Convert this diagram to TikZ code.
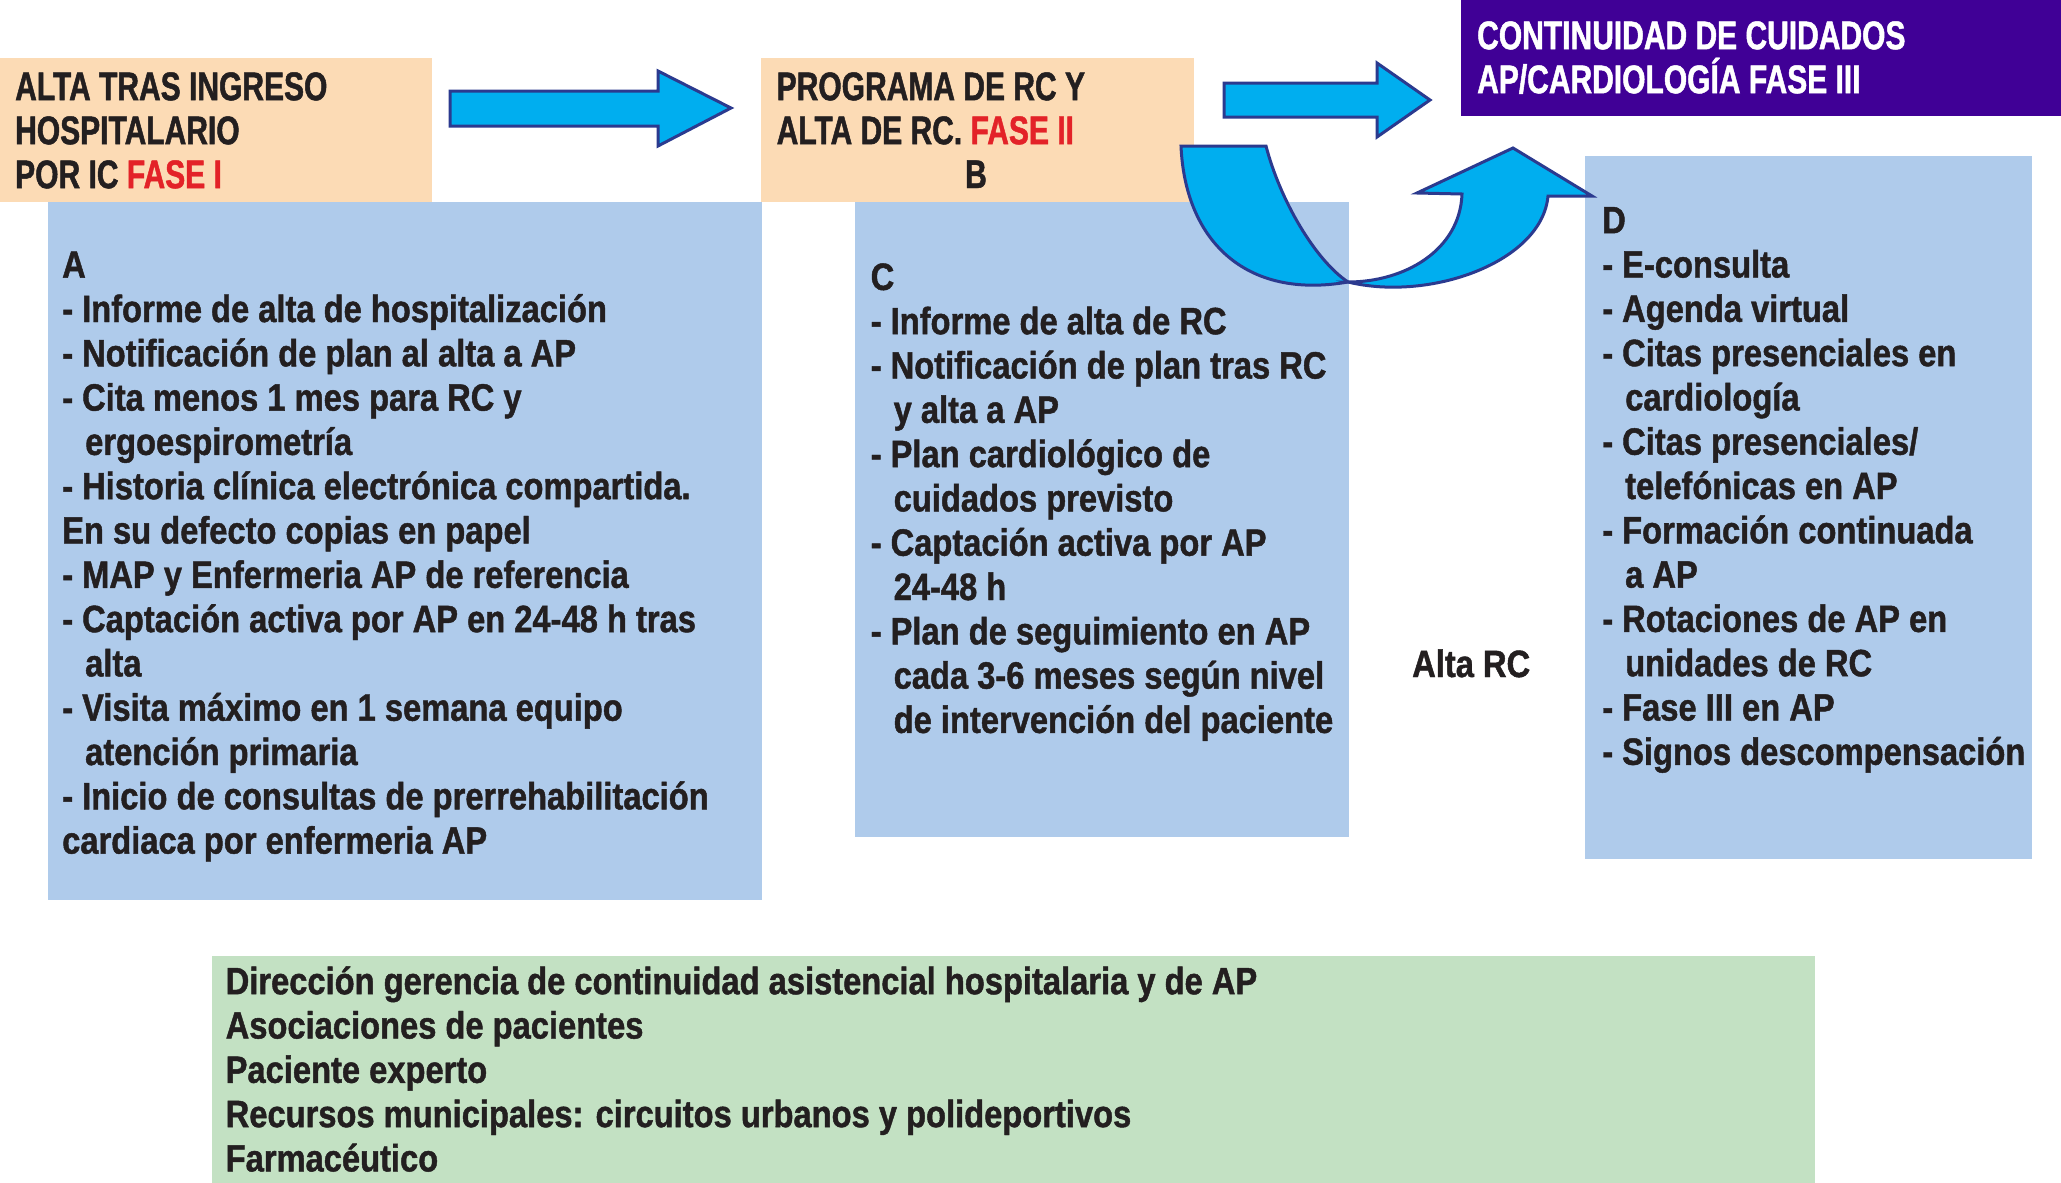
\documentclass[tikz,border=0pt]{standalone}
\usepackage{fontspec}
\newfontfamily\bodyfont{Liberation Sans}[FakeStretch=0.86,FakeBold=1.2]
\newfontfamily\headfont{Liberation Sans}[FakeStretch=0.75,FakeBold=1.2]
\definecolor{peach}{HTML}{FCDBB5}
\definecolor{lblue}{HTML}{AFCBEB}
\definecolor{lgreen}{HTML}{C3E1C3}
\definecolor{purp}{HTML}{400096}
\definecolor{fasered}{HTML}{E32228}
\definecolor{txtcol}{HTML}{231F20}
\definecolor{arrcyan}{HTML}{00AEEF}
\definecolor{arrblue}{HTML}{2B3A8F}
\newcommand{\ind}{\hspace*{23pt}}
\newcommand{\fl}{\rule{0pt}{34pt}}
\begin{document}
\begin{tikzpicture}[x=1pt,y=-1pt,
  box/.style={draw=none, inner sep=0pt, outer sep=0pt, anchor=north west},
  body/.style={anchor=north west, inner sep=0pt, align=left, text=txtcol,
    font=\bodyfont\bfseries\fontsize{38}{44.3}\selectfont},
  head/.style={anchor=north west, inner sep=0pt, align=left, text=txtcol,
    font=\headfont\bfseries\fontsize{40}{44}\selectfont},
  blk/.style={fill=arrcyan, draw=arrblue, line width=3pt, line join=miter}]
\useasboundingbox (0,0) rectangle (2061,1183);
\fill[white] (0,0) rectangle (2061,1183);
% boxes
\node[box, fill=peach, minimum width=432, minimum height=144] (p1) at (0,58) {};
\node[box, fill=peach, minimum width=433, minimum height=144] (p2) at (761,58) {};
\node[box, fill=purp, minimum width=600, minimum height=116] (pu) at (1461,0) {};
\node[box, fill=lblue, minimum width=714, minimum height=698] (bA) at (48,202) {};
\node[box, fill=lblue, minimum width=494, minimum height=635] (bC) at (855,202) {};
\node[box, fill=lblue, minimum width=447, minimum height=703] (bD) at (1585,156) {};
\node[box, fill=lgreen, minimum width=1603, minimum height=227] (bG) at (212,956) {};
% header texts
\node[head] (t1) at (15,66) {\fl ALTA TRAS INGRESO\\HOSPITALARIO\\POR IC {\color{fasered}FASE I}};
\node[head] (t2) at (776.5,66) {\fl PROGRAMA DE RC Y\\ALTA DE RC. {\color{fasered}FASE II}};
\node[head, anchor=base] (tb) at (976,188) {B};
\node[head, text=white] (t3) at (1477,15) {\fl CONTINUIDAD DE CUIDADOS\\AP/CARDIOLOGÍA FASE III};
% body texts
\node[body] (ta) at (62,243.5) {\fl A\\
- Informe de alta de hospitalización\\
- Notificación de plan al alta a AP\\
- Cita menos 1 mes para RC y\\
\ind ergoespirometría\\
- Historia clínica electrónica compartida.\\
En su defecto copias en papel\\
- MAP y Enfermeria AP de referencia\\
- Captación activa por AP en 24-48 h tras\\
\ind alta\\
- Visita máximo en 1 semana equipo\\
\ind atención primaria\\
- Inicio de consultas de prerrehabilitación\\
cardiaca por enfermeria AP};
\node[body] (tc) at (870.5,255.7) {\fl C\\
- Informe de alta de RC\\
- Notificación de plan tras RC\\
\ind y alta a AP\\
- Plan cardiológico de\\
\ind cuidados previsto\\
- Captación activa por AP\\
\ind 24-48 h\\
- Plan de seguimiento en AP\\
\ind cada 3-6 meses según nivel\\
\ind de intervención del paciente};
\node[body] (td) at (1602,199) {\fl D\\
- E-consulta\\
- Agenda virtual\\
- Citas presenciales en\\
\ind cardiología\\
- Citas presenciales/\\
\ind telefónicas en AP\\
- Formación continuada\\
\ind a AP\\
- Rotaciones de AP en\\
\ind unidades de RC\\
- Fase III en AP\\
- Signos descompensación};
\node[body] (tg) at (225.5,960) {\fl Dirección gerencia de continuidad asistencial hospitalaria y de AP\\
Asociaciones de pacientes\\
Paciente experto\\
Recursos municipales: circuitos urbanos y polideportivos\\
Farmacéutico};
\node[body, anchor=base west] (alta) at (1412,677) {Alta RC};
% block arrows
\filldraw[blk] (450,91) -- (658,91) -- (658,71) -- (731,108) -- (658,146) -- (658,126) -- (450,126) -- cycle;
\filldraw[blk] (1224,83) -- (1377,83) -- (1377,63) -- (1430,100) -- (1377,137) -- (1377,117) -- (1224,117) -- cycle;
% U-turn arrow
\filldraw[blk] (1181,146) -- (1266,146) .. controls (1280,200) and (1315,260) .. (1348,282)
  .. controls (1245,300) and (1185,240) .. (1181,146) -- cycle;
\filldraw[blk] (1348,282) .. controls (1430,302) and (1542,262) .. (1548,196) -- (1592,196)
  -- (1513,148) -- (1417,193) -- (1462,194) .. controls (1460,250) and (1405,282) .. (1348,282) -- cycle;
\end{tikzpicture}
\end{document}
